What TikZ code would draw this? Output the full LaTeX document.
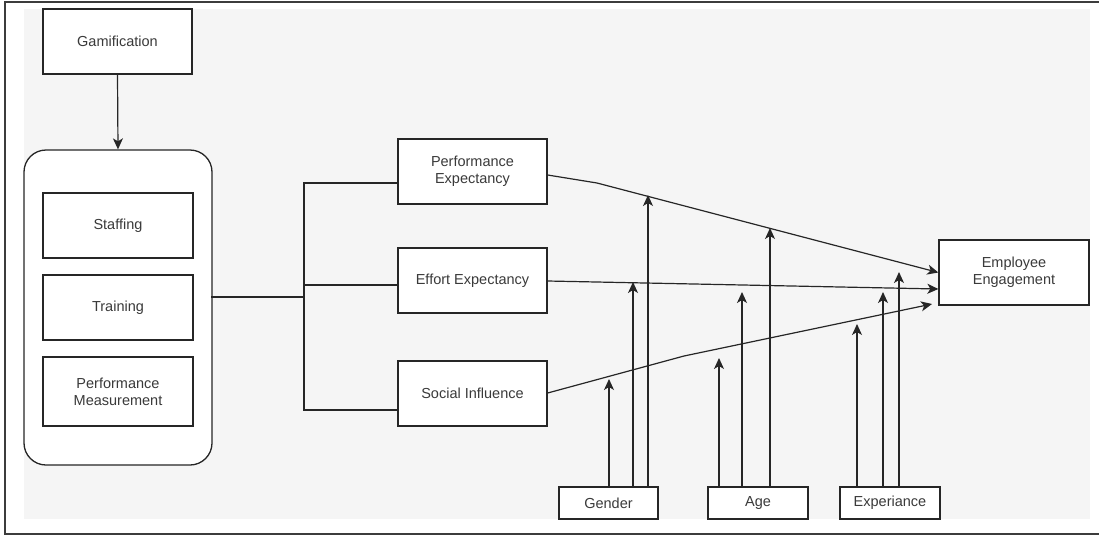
\documentclass[tikz,border=0pt]{standalone}
\usepackage{fontspec}
\setmainfont{Liberation Sans}
\usetikzlibrary{arrows.meta,calc}
\definecolor{bggray}{HTML}{F5F5F5}
\definecolor{txt}{HTML}{3A3A3A}
\definecolor{ln}{HTML}{262626}
\tikzset{
  box/.style={draw=ln, line width=1.3pt, fill=white, text=txt, align=center,
    inner sep=2pt, font=\fontsize{14.5}{17}\selectfont},
  arr/.style={draw=ln, line width=1.2pt, -{Stealth[length=11pt,width=10pt,inset=3pt]}},
  bracket/.style={draw=ln, line width=2.8pt, line join=miter, line cap=rect},
}
\begin{document}
\begin{tikzpicture}[x=1pt,y=-1pt]
\useasboundingbox (0,0) rectangle (1099,536);
% background
\fill[bggray] (24,9) rectangle (1090,519);
\draw[ln!90, line width=1.5pt] (1099,2) -- (5,2) -- (5,534) -- (1099,534);

% left column
\node[box, minimum width=149pt, minimum height=65pt] (gam) at (117.5,41.5) {Gamification};
\node[draw=ln, line width=1.3pt, fill=white, rounded corners=22pt,
      minimum width=188pt, minimum height=315pt] (cont) at (118,307.5) {};
\node[box, minimum width=150pt, minimum height=65pt] (staff) at (118,225.5) {Staffing};
\node[box, minimum width=150pt, minimum height=65pt] (train) at (118,307.5) {Training};
\node[box, minimum width=150pt, minimum height=69pt] (pm) at (118,391.5) {Performance\\Measurement};

% middle column
\node[box, minimum width=149pt, minimum height=65pt] (pe) at (472.5,171.5) {Performance\\Expectancy};
\node[box, minimum width=149pt, minimum height=65pt] (ee) at (472.5,280.5) {Effort Expectancy};
\node[box, minimum width=149pt, minimum height=65pt] (si) at (472.5,393.5) {Social Influence};

% right
\node[box, minimum width=150pt, minimum height=65pt] (emp) at (1014,272.5) {Employee\\Engagement};

% moderators
\node[box, minimum width=99pt, minimum height=32pt] (gen) at (608.5,503) {Gender};
\node[box, minimum width=100pt, minimum height=32pt] (age) at (758,503) {Age};
\node[box, minimum width=100pt, minimum height=32pt] (exp) at (890,503) {Experiance};

% gamification arrow
\draw[arr] (gam.south) -- (cont.north);

% bracket
\coordinate (bj) at (304,297);
\draw[bracket] ($(cont.east)+(0,-10.5)$) -- (bj);
\draw[bracket] (304,183) -- (304,410);
\draw[bracket] (304,183) -- (pe.west |- 0,183);
\draw[bracket] (304,285) -- (ee.west |- 0,285);
\draw[bracket] (304,410) -- (si.west |- 0,410);

% main arrows
\coordinate (pebend) at (597,183);
\coordinate (sibend) at (684,356);
\coordinate (siend) at (932,304);
\draw[arr] ($(pe.east)+(0,3.5)$) -- (pebend) -- (emp.west);
\draw[arr] ($(ee.east)+(0,0.5)$) -- ($(emp.west)+(0,16.5)$);
\draw[arr] ($(si.east)+(0,-0.5)$) -- (sibend) -- (siend);

% moderator arrows
\coordinate (g1) at (609,379);
\coordinate (g2) at (633,282);
\coordinate (g3) at (648,195);
\coordinate (a1) at (719,358);
\coordinate (a2) at (742,292);
\coordinate (a3) at (770,228);
\coordinate (x1) at (857,324);
\coordinate (x2) at (883,292);
\coordinate (x3) at (899,272);
\draw[arr] (gen.north -| g1) -- (g1);
\draw[arr] (gen.north -| g2) -- (g2);
\draw[arr] (gen.north -| g3) -- (g3);
\draw[arr] (age.north -| a1) -- (a1);
\draw[arr] (age.north -| a2) -- (a2);
\draw[arr] (age.north -| a3) -- (a3);
\draw[arr] (exp.north -| x1) -- (x1);
\draw[arr] (exp.north -| x2) -- (x2);
\draw[arr] (exp.north -| x3) -- (x3);
\end{tikzpicture}
\end{document}
